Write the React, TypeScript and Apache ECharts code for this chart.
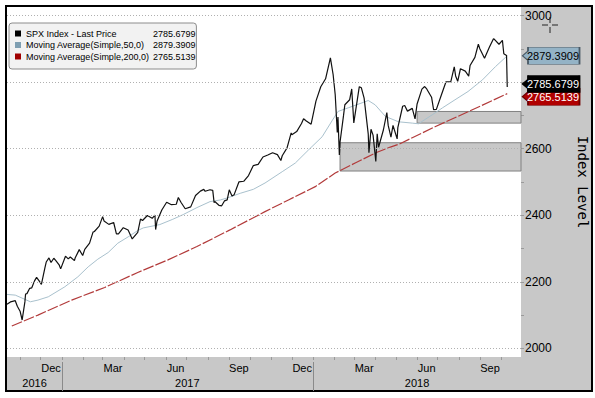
import React, { useEffect, useRef } from 'react';
import * as echarts from 'echarts';

// ---- axis ranges ----
const X_MIN = '2016-10-13';
const X_MAX = '2018-10-30';
const Y_MIN = 1974;
const Y_MAX = 3026;

// ---- tick labels ----
const MONTH_NAMES = ['Jan', 'Feb', 'Mar', 'Apr', 'May', 'Jun', 'Jul', 'Aug', 'Sep', 'Oct', 'Nov', 'Dec'];
const QUARTER_LABEL_DATES = ['2016-12-16', '2017-03-16', '2017-06-15', '2017-09-15', '2017-12-16', '2018-03-16', '2018-06-15', '2018-09-15'];
const MONTH_TICK_DATES = ['2016-11-01', '2016-12-01', '2017-01-01', '2017-02-01', '2017-03-01', '2017-04-01', '2017-05-01', '2017-06-01', '2017-07-01', '2017-08-01', '2017-09-01', '2017-10-01', '2017-11-01', '2017-12-01', '2018-01-01', '2018-02-01', '2018-03-01', '2018-04-01', '2018-05-01', '2018-06-01', '2018-07-01', '2018-08-01', '2018-09-01', '2018-10-01'];
const YEAR_LABEL_DATES = ['2016-11-22', '2017-07-02', '2018-06-01'];
const YEAR_DIVIDER_DATES = ['2017-01-01', '2018-01-01'];
const Y_GRID = [2000, 2200, 2400, 2600, 2800, 3000];
const Y_LABELS = [2000, 2200, 2400, 2600, 3000]; // 2800 is hidden behind the price tags
const Y_MINOR_TICKS = [2000, 2100, 2200, 2300, 2400, 2500, 2600, 2700, 2800, 2900, 3000];

// ---- series ----
const PRICE_NAME = 'SPX Index - Last Price';
const MA50_NAME = 'Moving Average(Simple,50,0)';
const MA200_NAME = 'Moving Average(Simple,200,0)';

const PRICE: [string, number][] = [
  ['2016-10-13', 2132.5], ['2016-10-18', 2139.6], ['2016-10-21', 2141.2], ['2016-10-25', 2143.2], ['2016-10-28', 2126.4],
  ['2016-11-01', 2111.7], ['2016-11-04', 2085.2], ['2016-11-08', 2139.6], ['2016-11-09', 2163.3], ['2016-11-11', 2164.5],
  ['2016-11-15', 2180.4], ['2016-11-18', 2181.9], ['2016-11-22', 2202.9], ['2016-11-25', 2213.4], ['2016-11-30', 2198.8],
  ['2016-12-02', 2192.0], ['2016-12-07', 2241.4], ['2016-12-09', 2259.5], ['2016-12-13', 2271.7], ['2016-12-16', 2258.1],
  ['2016-12-20', 2270.8], ['2016-12-23', 2263.8], ['2016-12-28', 2249.9], ['2016-12-30', 2238.8],
  ['2017-01-06', 2277.0], ['2017-01-10', 2268.9], ['2017-01-13', 2274.6], ['2017-01-19', 2263.7], ['2017-01-20', 2271.3],
  ['2017-01-26', 2296.7], ['2017-01-31', 2278.9], ['2017-02-03', 2297.4], ['2017-02-10', 2316.1], ['2017-02-15', 2349.3],
  ['2017-02-17', 2351.2], ['2017-02-24', 2367.3], ['2017-03-01', 2396.0], ['2017-03-03', 2383.1], ['2017-03-10', 2372.6],
  ['2017-03-17', 2378.3], ['2017-03-21', 2344.0], ['2017-03-24', 2344.0], ['2017-03-31', 2362.7], ['2017-04-07', 2355.5],
  ['2017-04-13', 2329.0], ['2017-04-21', 2348.7], ['2017-04-25', 2388.6], ['2017-04-28', 2384.2], ['2017-05-05', 2399.3],
  ['2017-05-12', 2390.9], ['2017-05-16', 2400.7], ['2017-05-17', 2357.0], ['2017-05-19', 2381.7], ['2017-05-26', 2415.8],
  ['2017-06-02', 2439.1], ['2017-06-09', 2431.8], ['2017-06-16', 2433.2], ['2017-06-19', 2453.5], ['2017-06-23', 2438.3],
  ['2017-06-29', 2419.7], ['2017-07-07', 2425.2], ['2017-07-14', 2459.3], ['2017-07-21', 2472.5], ['2017-07-26', 2477.8],
  ['2017-07-28', 2472.1], ['2017-08-04', 2476.8], ['2017-08-08', 2474.9], ['2017-08-10', 2438.2], ['2017-08-11', 2441.3],
  ['2017-08-17', 2430.0], ['2017-08-21', 2428.4], ['2017-08-25', 2443.1], ['2017-08-29', 2446.3], ['2017-09-01', 2476.6],
  ['2017-09-05', 2457.9], ['2017-09-08', 2461.4], ['2017-09-15', 2500.2], ['2017-09-22', 2502.2], ['2017-09-29', 2519.4],
  ['2017-10-06', 2549.3], ['2017-10-13', 2553.2], ['2017-10-20', 2575.2], ['2017-10-27', 2581.1], ['2017-11-03', 2587.8],
  ['2017-11-10', 2582.3], ['2017-11-15', 2564.6], ['2017-11-17', 2578.9], ['2017-11-24', 2602.4], ['2017-11-30', 2647.6],
  ['2017-12-01', 2642.2], ['2017-12-08', 2651.5], ['2017-12-15', 2675.8], ['2017-12-18', 2690.2], ['2017-12-22', 2683.3],
  ['2017-12-29', 2673.6],
  ['2018-01-05', 2743.2], ['2018-01-12', 2786.2], ['2018-01-19', 2810.3], ['2018-01-26', 2872.9], ['2018-01-30', 2822.4],
  ['2018-02-02', 2762.1], ['2018-02-05', 2648.9], ['2018-02-06', 2695.1], ['2018-02-08', 2581.0], ['2018-02-09', 2619.6],
  ['2018-02-14', 2698.6], ['2018-02-16', 2732.2], ['2018-02-23', 2747.3], ['2018-02-26', 2779.6], ['2018-03-01', 2677.7],
  ['2018-03-02', 2691.3], ['2018-03-09', 2786.6], ['2018-03-12', 2783.0], ['2018-03-16', 2752.0], ['2018-03-22', 2643.7],
  ['2018-03-23', 2588.3], ['2018-03-26', 2658.6], ['2018-03-29', 2640.9], ['2018-04-02', 2562.0], ['2018-04-04', 2644.7],
  ['2018-04-06', 2604.5], ['2018-04-13', 2656.3], ['2018-04-18', 2708.6], ['2018-04-20', 2670.1], ['2018-04-24', 2634.6],
  ['2018-04-27', 2669.9], ['2018-05-03', 2629.7], ['2018-05-04', 2663.4], ['2018-05-11', 2727.7], ['2018-05-14', 2730.1],
  ['2018-05-18', 2713.0], ['2018-05-25', 2721.3], ['2018-05-29', 2689.9], ['2018-06-01', 2734.6], ['2018-06-08', 2779.0],
  ['2018-06-12', 2786.9], ['2018-06-15', 2779.7], ['2018-06-22', 2754.9], ['2018-06-25', 2717.1], ['2018-06-29', 2718.4],
  ['2018-07-06', 2759.8], ['2018-07-13', 2801.3], ['2018-07-20', 2801.8], ['2018-07-25', 2846.1], ['2018-07-27', 2818.8],
  ['2018-07-30', 2802.6], ['2018-08-03', 2840.4], ['2018-08-10', 2833.3], ['2018-08-15', 2818.4], ['2018-08-17', 2850.1],
  ['2018-08-24', 2874.7], ['2018-08-29', 2914.0], ['2018-08-31', 2901.5], ['2018-09-07', 2871.7], ['2018-09-14', 2905.0],
  ['2018-09-20', 2930.8], ['2018-09-21', 2929.7], ['2018-09-28', 2914.0], ['2018-10-03', 2925.5], ['2018-10-05', 2885.6],
  ['2018-10-09', 2880.3], ['2018-10-10', 2785.6799],
];

const MA50: [string, number][] = [
  ['2016-10-13', 2162], ['2016-10-25', 2160], ['2016-11-16', 2140], ['2016-11-27', 2145], ['2016-12-12', 2155],
  ['2017-01-05', 2185], ['2017-01-24', 2215], ['2017-02-08', 2245], ['2017-02-22', 2268], ['2017-03-09', 2288],
  ['2017-03-23', 2316], ['2017-04-07', 2335], ['2017-04-21', 2354], ['2017-04-29', 2362], ['2017-05-23', 2372],
  ['2017-06-11', 2388], ['2017-06-26', 2402], ['2017-07-16', 2423], ['2017-08-04', 2441], ['2017-08-19', 2446],
  ['2017-08-29', 2452], ['2017-09-17', 2466], ['2017-10-06', 2478], ['2017-10-23', 2497], ['2017-11-17', 2531],
  ['2017-12-06', 2557], ['2017-12-25', 2596], ['2018-01-14', 2636], ['2018-01-29', 2686], ['2018-02-06', 2712],
  ['2018-02-21', 2723], ['2018-03-13', 2738], ['2018-03-22', 2745], ['2018-04-01', 2732], ['2018-04-16', 2697],
  ['2018-05-05', 2681], ['2018-05-25', 2677], ['2018-06-03', 2675], ['2018-06-23', 2702], ['2018-07-08', 2723],
  ['2018-07-26', 2747], ['2018-08-14', 2772], ['2018-09-04', 2807], ['2018-09-23', 2847], ['2018-10-10', 2879.3909],
];

const MA200: [string, number][] = [
  ['2016-10-20', 2067], ['2016-11-27', 2100], ['2017-01-15', 2145], ['2017-03-04', 2183], ['2017-04-21', 2228],
  ['2017-06-04', 2266], ['2017-07-16', 2306], ['2017-09-02', 2356], ['2017-10-23', 2411], ['2017-11-26', 2446],
  ['2018-01-04', 2486], ['2018-02-02', 2527], ['2018-03-03', 2557], ['2018-04-01', 2587], ['2018-04-23', 2605],
  ['2018-05-05', 2613], ['2018-06-27', 2666], ['2018-08-14', 2711], ['2018-10-10', 2765.5139],
];

// shaded support zones: start date, upper value, lower value
const ZONE_STARTS = ['2018-02-09', '2018-06-01'];
const ZONE_TOPS = [2618, 2712];
const ZONE_BOTTOMS = [2533, 2677];

const SANS = "'Liberation Sans', Arial, sans-serif";
const MONO = "'DejaVu Sans Mono', 'Liberation Mono', monospace";
const TAG_PATH = 'path://M0,9 L6,4 L6,0 L62,0 L62,18 L6,18 L6,14 Z';

const ts = (s: string) => new Date(s + 'T00:00:00').getTime();
const last = (arr: [string, number][]) => arr[arr.length - 1][1];
const toXY = (arr: [string, number][]) => arr.map(([d, v]) => [ts(d), v]);

function tag(value: number, fill: string, text: string, dy: number, border: string) {
  return {
    symbol: TAG_PATH,
    symbolSize: [57, 17],
    symbolOffset: [30, dy],
    symbolKeepAspect: false,
    silent: true,
    itemStyle: { color: fill, borderColor: border, borderWidth: 1 },
    label: {
      show: true,
      position: 'inside',
      offset: [2, 0],
      color: text,
      fontFamily: SANS,
      fontSize: 11,
      formatter: () => value.toFixed(4),
    },
    data: [{ coord: [ts(X_MAX), value], value }],
  };
}

export default function App() {
  const ref = useRef<HTMLDivElement>(null);

  useEffect(() => {
    const chart = echarts.init(ref.current!, null, { renderer: 'svg' });
    const legendValues: Record<string, number> = {
      [PRICE_NAME]: last(PRICE),
      [MA50_NAME]: last(MA50),
      [MA200_NAME]: last(MA200),
    };
    const xMin = ts(X_MIN);
    const xMax = ts(X_MAX);
    const legendCommon = {
      top: 23,
      orient: 'vertical',
      selectedMode: false,
      itemHeight: 6,
      itemGap: 2.5,
      icon: 'rect',
      textStyle: { fontFamily: SANS, fontSize: 9, color: '#000' },
    };

    const option: any = {
      animation: false,
      backgroundColor: '#ffffff',
      graphic: [
        {
          type: 'rect',
          z: -10,
          silent: true,
          shape: { x: 6, y: 6, width: 586, height: 385 },
          style: { fill: '#c8c8c8', stroke: '#000000', lineWidth: 2 },
        },
        {
          type: 'group',
          z: 100,
          silent: true,
          children: [
            { type: 'line', shape: { x1: 542, y1: 25, x2: 548, y2: 25 }, style: { stroke: '#222', lineWidth: 1 } },
            { type: 'line', shape: { x1: 552, y1: 25, x2: 558, y2: 25 }, style: { stroke: '#222', lineWidth: 1 } },
            { type: 'line', shape: { x1: 550, y1: 17, x2: 550, y2: 23 }, style: { stroke: '#222', lineWidth: 1 } },
            { type: 'line', shape: { x1: 550, y1: 27, x2: 550, y2: 33 }, style: { stroke: '#222', lineWidth: 1 } },
          ],
        },
      ],
      grid: {
        left: 7,
        top: 7,
        width: 514,
        height: 350,
        show: true,
        backgroundColor: '#ffffff',
        borderWidth: 0,
        containLabel: false,
        outerBoundsMode: 'none',
      },
      legend: [
        {
          ...legendCommon,
          left: 9,
          z: 4,
          backgroundColor: '#f2f2f2',
          borderColor: '#8c8c8c',
          borderWidth: 1,
          borderRadius: 3,
          padding: [6, 47, 8, 6],
          itemWidth: 6,
          data: [
            { name: PRICE_NAME, itemStyle: { color: '#000000' } },
            { name: MA50_NAME, itemStyle: { color: '#7f9fb2' } },
            { name: MA200_NAME, itemStyle: { color: '#a00000' } },
          ],
        },
        {
          ...legendCommon,
          left: 148,
          z: 5,
          padding: [6, 0, 8, 0],
          itemWidth: 0,
          itemStyle: { opacity: 0 },
          data: [PRICE_NAME, MA50_NAME, MA200_NAME],
          formatter: (name: string) => legendValues[name].toFixed(4),
        },
      ],
      xAxis: [
        {
          type: 'value',
          min: xMin,
          max: xMax,
          position: 'bottom',
          axisLine: { show: false },
          splitLine: { show: false },
          axisTick: {
            show: true,
            customValues: MONTH_TICK_DATES.map(ts),
            length: 3,
            lineStyle: { color: '#9a9a9a' },
          },
          axisLabel: {
            customValues: QUARTER_LABEL_DATES.map(ts),
            formatter: (v: number) => MONTH_NAMES[new Date(v).getMonth()],
            margin: 5,
            fontFamily: SANS,
            fontSize: 11,
            color: '#000',
          },
        },
        {
          type: 'value',
          min: xMin,
          max: xMax,
          position: 'bottom',
          offset: 5,
          axisLine: { show: false },
          splitLine: { show: false },
          axisTick: {
            show: true,
            customValues: YEAR_DIVIDER_DATES.map(ts),
            length: 29,
            lineStyle: { color: '#8a8a8a' },
          },
          axisLabel: {
            customValues: YEAR_LABEL_DATES.map(ts),
            formatter: (v: number) => String(new Date(v).getFullYear()),
            margin: 15,
            fontFamily: SANS,
            fontSize: 11,
            color: '#000',
          },
        },
      ],
      yAxis: {
        type: 'value',
        position: 'right',
        min: Y_MIN,
        max: Y_MAX,
        axisLine: { show: false },
        splitLine: { show: false },
        axisTick: {
          show: true,
          customValues: Y_MINOR_TICKS,
          length: 3,
          lineStyle: { color: '#9a9a9a' },
        },
        axisLabel: {
          customValues: Y_LABELS,
          formatter: (v: number) => String(v),
          margin: 4,
          fontFamily: SANS,
          fontSize: 12,
          color: '#000',
        },
        name: 'Index Level',
        nameLocation: 'middle',
        nameRotate: -90,
        nameGap: 55,
        nameTextStyle: { fontFamily: MONO, fontSize: 14, color: '#000' },
      },
      series: [
        {
          name: 'zones',
          type: 'line',
          data: [],
          z: 1,
          silent: true,
          markArea: {
            silent: true,
            itemStyle: { color: '#c8c8c8', borderColor: '#808080', borderWidth: 1 },
            data: ZONE_STARTS.map((s, i) => [
              { xAxis: ts(s), yAxis: ZONE_TOPS[i] },
              { xAxis: xMax, yAxis: ZONE_BOTTOMS[i] },
            ]),
          },
        },
        {
          name: 'grid',
          type: 'line',
          data: [],
          z: 1.5,
          silent: true,
          markLine: {
            silent: true,
            symbol: ['none', 'none'],
            label: { show: false },
            lineStyle: { color: '#b0b0b0', type: [1, 2], width: 1 },
            data: Y_GRID.map((v) => ({ yAxis: v })),
          },
        },
        {
          name: MA200_NAME,
          type: 'line',
          data: toXY(MA200),
          z: 3,
          showSymbol: false,
          symbol: 'none',
          clip: false,
          silent: true,
          itemStyle: { color: '#a00000' },
          lineStyle: { color: '#b23a3a', width: 1.2, type: [11, 2] },
          markPoint: tag(last(MA200), '#b00000', '#ffffff', 3, '#700000'),
        },
        {
          name: MA50_NAME,
          type: 'line',
          data: toXY(MA50),
          z: 3,
          showSymbol: false,
          symbol: 'none',
          clip: false,
          silent: true,
          itemStyle: { color: '#7f9fb2' },
          lineStyle: { color: '#a9c1cd', width: 1 },
          markPoint: tag(last(MA50), '#94b3c6', '#000000', 0, '#4a5a66'),
        },
        {
          name: PRICE_NAME,
          type: 'line',
          data: toXY(PRICE),
          z: 4,
          showSymbol: false,
          symbol: 'none',
          clip: false,
          silent: true,
          itemStyle: { color: '#000000' },
          lineStyle: { color: '#111111', width: 1.2 },
          markPoint: tag(last(PRICE), '#000000', '#ffffff', -3, '#000000'),
        },
      ],
    };

    chart.setOption(option);
    return () => chart.dispose();
  }, []);

  return (
    <div
      ref={ref}
      style={{ position: 'absolute', left: 0, top: 0, width: 595, height: 398 }}
    />
  );
}
